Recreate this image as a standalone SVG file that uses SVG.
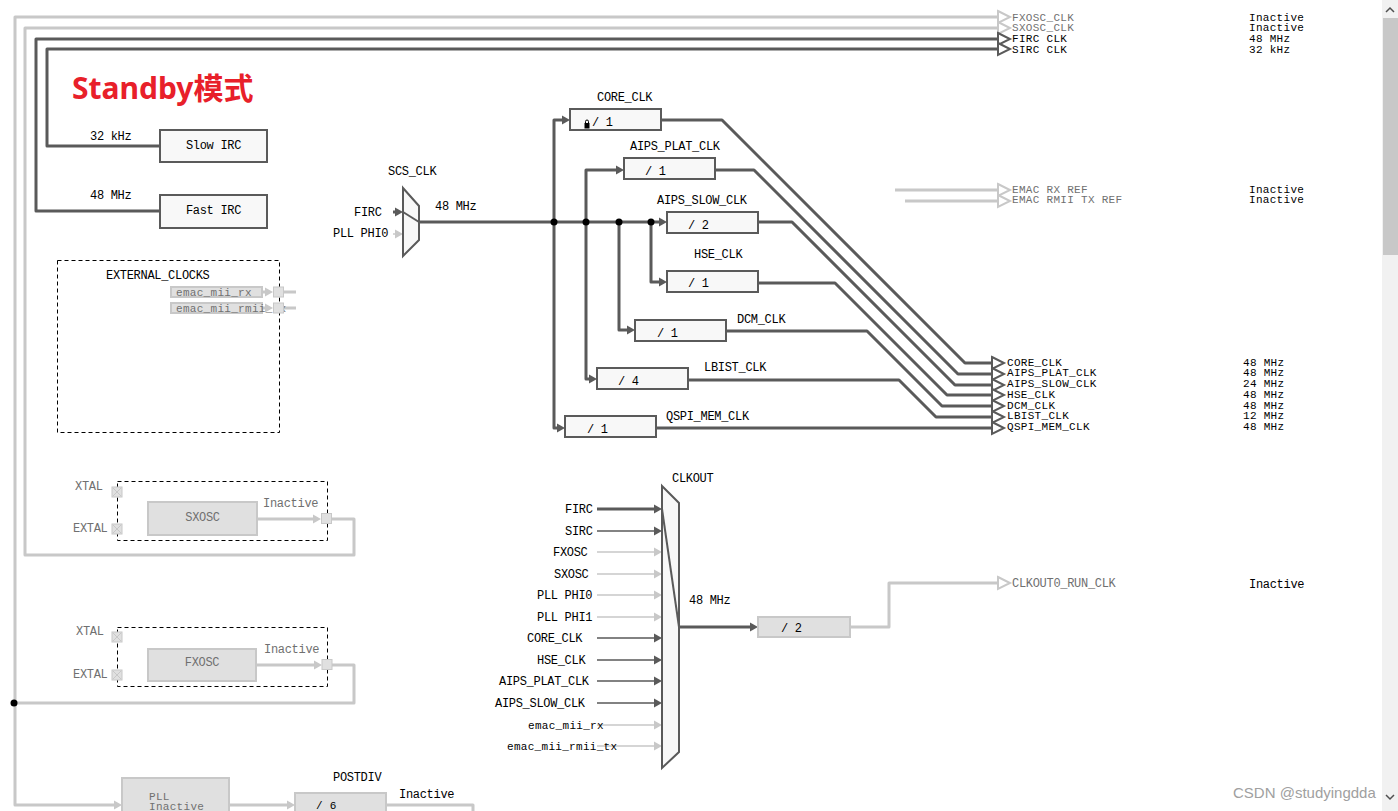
<svg xmlns="http://www.w3.org/2000/svg" width="1398" height="811" viewBox="0 0 1398 811">
<style>
.t{font-family:"Liberation Mono",monospace;font-size:12px;letter-spacing:-0.3px;fill:#000}
.s{font-size:11px;letter-spacing:0.3px}
.g{fill:#707070}
.c{text-anchor:middle}
.title{font-family:"Noto Sans","Noto Sans CJK SC",sans-serif;font-size:30px;font-weight:bold;fill:#e8202a}
.wm{font-family:"Liberation Sans",Arial,sans-serif;font-size:15px;fill:#a0a0a0}
.dk{fill:none;stroke:#5a5a5a;stroke-width:3;stroke-linejoin:round}
.dn{fill:none;stroke:#5a5a5a;stroke-width:1.5}
.lt{fill:none;stroke:#c8c8c8;stroke-width:3;stroke-linejoin:round}
.ln{fill:none;stroke:#c8c8c8;stroke-width:1.5}
.fad{fill:#5a5a5a}
.fal{fill:#c8c8c8}
.oad{fill:#fff;stroke:#5a5a5a;stroke-width:2}
.oal{fill:#fff;stroke:#c8c8c8;stroke-width:2}
.box{fill:#f8f8f8;stroke:#5a5a5a;stroke-width:2}
.ibox{fill:#e0e0e0;stroke:#c8c8c8;stroke-width:2}
.dash{fill:none;stroke:#000;stroke-width:1;stroke-dasharray:4 3}
.pin{fill:#e0e0e0;stroke:#c8c8c8;stroke-width:1}
.mux{fill:#f8f8f8;stroke:#5a5a5a;stroke-width:2}
.dot{fill:#000}
</style>
<defs>
<path id="fa" d="M-8,-4.5 L0,0 L-8,4.5 Z"/>
<path id="oa" d="M0,-6 L12,0 L0,6 Z"/>
<g id="xpin"><rect class="pin" x="0" y="0" width="10" height="10"/><path d="M1,1 L9,9 M9,1 L1,9" stroke="#c8c8c8" stroke-width="1"/></g>
</defs>
<rect x="0" y="0" width="1398" height="811" fill="#fff"/>

<g id="connectors">
<path class="lt" d="M114,805 H15 V17 H998"/>
<path class="lt" d="M332,665 H354 V703 H15"/>
<path class="lt" d="M332,519 H354 V555 H25 V28 H998"/>
<path class="dk" d="M160,146 H47 V49 H998"/>
<path class="dk" d="M160,211 H36 V39 H998"/>
<path class="lt" d="M895,190 H998"/>
<path class="lt" d="M905,201 H998"/>
<path class="lt" d="M257,519 H313"/>
<path class="lt" d="M256,665 H314"/>
<path class="lt" d="M262,292 H266 M284,292 H296"/>
<path class="lt" d="M262,308 H266 M284,308 H296"/>
<path class="lt" d="M229,805 H287"/>
<path class="lt" d="M386,805 H473 V811"/>
<path class="lt" d="M850,627 H889 V583 H998"/>
<path class="dk" d="M393,212 H397"/>
<path class="ln" d="M393,234 H397"/>
<path class="dk" d="M419,222 H659"/>
<path class="dk" d="M562,120 H554 V428 H557"/>
<path class="dk" d="M616,170 H586 V379 H589"/>
<path class="dk" d="M619,222 V330 H627"/>
<path class="dk" d="M651,222 V282 H659"/>
<path class="dk" d="M661,120 H722 L965,363 H992"/>
<path class="dk" d="M715,170 H754 L958,374 H992"/>
<path class="dk" d="M758,222 H792 L955,385 H992"/>
<path class="dk" d="M758,283 H835 L947,395 H992"/>
<path class="dk" d="M726,331 H867 L942,406 H992"/>
<path class="dk" d="M688,380 H899 L936,417 H992"/>
<path class="dk" d="M657,428 H992"/>
<path class="dk" d="M597,509 H654"/>
<path class="dn" d="M597,531 H654"/>
<path class="ln" d="M597,552 H654 M597,574 H654 M597,595 H654 M597,617 H654"/>
<path class="dn" d="M597,638 H654 M597,660 H654 M597,681 H654 M597,703 H654"/>
<path class="ln" d="M597,725 H654 M597,746 H654"/>
<path class="dk" d="M679,627 H750"/>
<g class="fad">
<use href="#fa" x="403" y="212"/>
<use href="#fa" x="667" y="222"/>
<use href="#fa" x="570" y="120"/>
<use href="#fa" x="565" y="428"/>
<use href="#fa" x="624" y="170"/>
<use href="#fa" x="597" y="379"/>
<use href="#fa" x="635" y="330"/>
<use href="#fa" x="667" y="282"/>
<use href="#fa" x="662" y="509"/>
<use href="#fa" x="662" y="531"/>
<use href="#fa" x="662" y="638"/>
<use href="#fa" x="662" y="660"/>
<use href="#fa" x="662" y="681"/>
<use href="#fa" x="662" y="703"/>
<use href="#fa" x="758" y="627"/>
</g>
<g class="fal">
<use href="#fa" x="403" y="234"/>
<use href="#fa" x="662" y="552"/>
<use href="#fa" x="662" y="574"/>
<use href="#fa" x="662" y="595"/>
<use href="#fa" x="662" y="617"/>
<use href="#fa" x="662" y="725"/>
<use href="#fa" x="662" y="746"/>
<use href="#fa" x="321" y="519"/>
<use href="#fa" x="322" y="665"/>
<use href="#fa" x="273" y="292"/>
<use href="#fa" x="273" y="308"/>
<use href="#fa" x="295" y="805"/>
<use href="#fa" x="122" y="805"/>
</g>
<use class="oal" href="#oa" x="998" y="17"/>
<use class="oal" href="#oa" x="998" y="28"/>
<use class="oad" href="#oa" x="998" y="39"/>
<use class="oad" href="#oa" x="998" y="49"/>
<use class="oal" href="#oa" x="998" y="190"/>
<use class="oal" href="#oa" x="998" y="201"/>
<use class="oal" href="#oa" x="998" y="583"/>
<use class="oad" href="#oa" x="992" y="363"/>
<use class="oad" href="#oa" x="992" y="374"/>
<use class="oad" href="#oa" x="992" y="385"/>
<use class="oad" href="#oa" x="992" y="395"/>
<use class="oad" href="#oa" x="992" y="406"/>
<use class="oad" href="#oa" x="992" y="417"/>
<use class="oad" href="#oa" x="992" y="428"/>
<circle class="dot" cx="554" cy="222" r="3.5"/>
<circle class="dot" cx="586" cy="222" r="3.5"/>
<circle class="dot" cx="619" cy="222" r="3.5"/>
<circle class="dot" cx="651" cy="222" r="3.5"/>
<circle class="dot" cx="14" cy="703" r="3.5"/>
</g>

<text class="title" x="72" y="99">Standby模式</text>

<g id="slow_irc">
<rect class="box" x="160" y="130" width="107" height="32"/>
<text class="t c" x="213.5" y="149">Slow IRC</text>
<text class="t" x="90" y="140">32 kHz</text>
</g>
<g id="fast_irc">
<rect class="box" x="160" y="195" width="107" height="33"/>
<text class="t c" x="213.5" y="214">Fast IRC</text>
<text class="t" x="90" y="199">48 MHz</text>
</g>

<g id="outputs_top">
<text class="t s g" x="1012" y="20.5">FXOSC_CLK</text>
<text class="t s g" x="1012" y="31">SXOSC_CLK</text>
<text class="t s" x="1012" y="42">FIRC CLK</text>
<text class="t s" x="1012" y="52.5">SIRC CLK</text>
<text class="t s" x="1249" y="20.5">Inactive</text>
<text class="t s" x="1249" y="31">Inactive</text>
<text class="t s" x="1249" y="42">48 MHz</text>
<text class="t s" x="1249" y="52.5">32 kHz</text>
</g>

<g id="emac_refs">
<text class="t s g" x="1012" y="192.5">EMAC RX REF</text>
<text class="t s g" x="1012" y="203">EMAC RMII TX REF</text>
<text class="t s" x="1249" y="192.5">Inactive</text>
<text class="t s" x="1249" y="203">Inactive</text>
</g>

<g id="scs_clk">
<polygon class="mux" points="403,188 419,206 419,240 403,256"/>
<path d="M403,212 L419,222" stroke="#5a5a5a" stroke-width="2"/>
<text class="t" x="388" y="175">SCS_CLK</text>
<text class="t" x="354" y="216">FIRC</text>
<text class="t" x="333" y="237">PLL PHI0</text>
<text class="t" x="435" y="210">48 MHz</text>
</g>

<g id="core_clk">
<rect class="box" x="570" y="109" width="91" height="21"/>
<rect x="584.5" y="123" width="5" height="5.5" fill="#000"/>
<path d="M585.5,123.5 V121.5 a1.5,1.5 0 0 1 3,0 V123.5" fill="none" stroke="#000" stroke-width="1"/>
<text class="t" x="592" y="126">/ 1</text>
<text class="t" x="597" y="101">CORE_CLK</text>
</g>
<g id="aips_plat_clk">
<rect class="box" x="624" y="158" width="91" height="21"/>
<text class="t" x="645" y="175">/ 1</text>
<text class="t" x="630" y="150">AIPS_PLAT_CLK</text>
</g>
<g id="aips_slow_clk">
<rect class="box" x="667" y="212" width="91" height="21"/>
<text class="t" x="688" y="229">/ 2</text>
<text class="t" x="657" y="204">AIPS_SLOW_CLK</text>
</g>
<g id="hse_clk">
<rect class="box" x="667" y="271" width="91" height="21"/>
<text class="t" x="688" y="287">/ 1</text>
<text class="t" x="694" y="258">HSE_CLK</text>
</g>
<g id="dcm_clk">
<rect class="box" x="635" y="320" width="91" height="21"/>
<text class="t" x="657" y="337">/ 1</text>
<text class="t" x="737" y="323">DCM_CLK</text>
</g>
<g id="lbist_clk">
<rect class="box" x="597" y="368" width="91" height="21"/>
<text class="t" x="618" y="385">/ 4</text>
<text class="t" x="704" y="371">LBIST_CLK</text>
</g>
<g id="qspi_mem_clk">
<rect class="box" x="565" y="416" width="91" height="21"/>
<text class="t" x="587" y="433">/ 1</text>
<text class="t" x="666" y="420">QSPI_MEM_CLK</text>
</g>

<g id="outputs_sys">
<text class="t s" x="1007" y="365.5">CORE_CLK</text>
<text class="t s" x="1007" y="376">AIPS_PLAT_CLK</text>
<text class="t s" x="1007" y="387">AIPS_SLOW_CLK</text>
<text class="t s" x="1007" y="397.5">HSE_CLK</text>
<text class="t s" x="1007" y="408.5">DCM_CLK</text>
<text class="t s" x="1007" y="419">LBIST_CLK</text>
<text class="t s" x="1007" y="430">QSPI_MEM_CLK</text>
<text class="t s" x="1243" y="365.5">48 MHz</text>
<text class="t s" x="1243" y="376">48 MHz</text>
<text class="t s" x="1243" y="387">24 MHz</text>
<text class="t s" x="1243" y="397.5">48 MHz</text>
<text class="t s" x="1243" y="408.5">48 MHz</text>
<text class="t s" x="1243" y="419">12 MHz</text>
<text class="t s" x="1243" y="430">48 MHz</text>
</g>

<g id="external_clocks">
<rect class="dash" x="57.5" y="260.5" width="222" height="172"/>
<text class="t" x="106" y="279">EXTERNAL_CLOCKS</text>
<rect class="ibox" x="171" y="287" width="91" height="10" stroke-width="1.5"/>
<text class="t s g" x="176" y="295.5">emac_mii_rx</text>
<rect class="ibox" x="171" y="303" width="91" height="10" stroke-width="1.5"/>
<text class="t s g" x="176" y="311.5">emac_mii_rmii_tx</text>
<rect class="pin" x="273.5" y="287" width="10" height="10" stroke-width="1.5"/>
<rect class="pin" x="273.5" y="303" width="10" height="10" stroke-width="1.5"/>
</g>

<g id="sxosc">
<rect class="dash" x="117.5" y="481.5" width="210" height="59"/>
<use href="#xpin" x="112" y="487"/>
<use href="#xpin" x="112" y="524"/>
<text class="t g" x="75" y="490">XTAL</text>
<text class="t g" x="73" y="532">EXTAL</text>
<rect class="ibox" x="148" y="502" width="109" height="33"/>
<text class="t g c" x="202.5" y="521">SXOSC</text>
<text class="t g" x="263" y="507">Inactive</text>
<rect class="pin" x="321.5" y="513.5" width="10" height="10" stroke-width="1.5"/>
</g>

<g id="fxosc">
<rect class="dash" x="117.5" y="627.5" width="210" height="59"/>
<use href="#xpin" x="112" y="632"/>
<use href="#xpin" x="112" y="670"/>
<text class="t g" x="76" y="635">XTAL</text>
<text class="t g" x="73" y="678">EXTAL</text>
<rect class="ibox" x="148" y="649" width="108" height="32"/>
<text class="t g c" x="202" y="666">FXOSC</text>
<text class="t g" x="264" y="653">Inactive</text>
<rect class="pin" x="322" y="659.5" width="10" height="10" stroke-width="1.5"/>
</g>

<g id="pll">
<rect class="ibox" x="122" y="778" width="107" height="40"/>
<text class="t s g" x="149" y="800">PLL</text>
<text class="t s g" x="149" y="810">Inactive</text>
</g>
<g id="postdiv">
<rect class="ibox" x="295" y="793" width="91" height="25"/>
<text class="t s" x="316" y="808.5">/ 6</text>
<text class="t" x="333" y="781">POSTDIV</text>
<text class="t" x="399" y="798">Inactive</text>
</g>

<g id="clkout">
<polygon class="mux" points="662,486 679,503 679,752 662,768"/>
<path d="M662,509 L679,627" stroke="#5a5a5a" stroke-width="2"/>
<text class="t" x="672" y="482">CLKOUT</text>
<text class="t" x="565" y="513">FIRC</text>
<text class="t" x="565" y="534.5">SIRC</text>
<text class="t" x="553" y="556">FXOSC</text>
<text class="t" x="554" y="577.5">SXOSC</text>
<text class="t" x="537" y="599">PLL PHI0</text>
<text class="t" x="537" y="620.5">PLL PHI1</text>
<text class="t" x="527" y="642">CORE_CLK</text>
<text class="t" x="537" y="663.5">HSE_CLK</text>
<text class="t" x="499" y="685">AIPS_PLAT_CLK</text>
<text class="t" x="495" y="706.5">AIPS_SLOW_CLK</text>
<text class="t s" x="528" y="728.5">emac_mii_rx</text>
<text class="t s" x="507" y="750">emac_mii_rmii_tx</text>
<text class="t" x="689" y="604">48 MHz</text>
</g>
<g id="clkout_div">
<rect class="ibox" x="758" y="617" width="92" height="20"/>
<text class="t" x="781" y="632">/ 2</text>
</g>
<g id="clkout0_run">
<text class="t g" x="1012" y="587">CLKOUT0_RUN_CLK</text>
<text class="t" x="1249" y="588">Inactive</text>
</g>

<g id="scrollbar">
<rect x="1382" y="0" width="16" height="811" fill="#f1f1f1"/>
<rect x="1383" y="18" width="15" height="237" fill="#c8c8c8"/>
<path d="M1386,12 L1390,8 L1394,12" fill="none" stroke="#505050" stroke-width="1.5"/>
<path d="M1386,795 L1390,799 L1394,795" fill="none" stroke="#505050" stroke-width="1.5"/>
</g>
<text class="wm" x="1233" y="798">CSDN @studyingdda</text>
</svg>
